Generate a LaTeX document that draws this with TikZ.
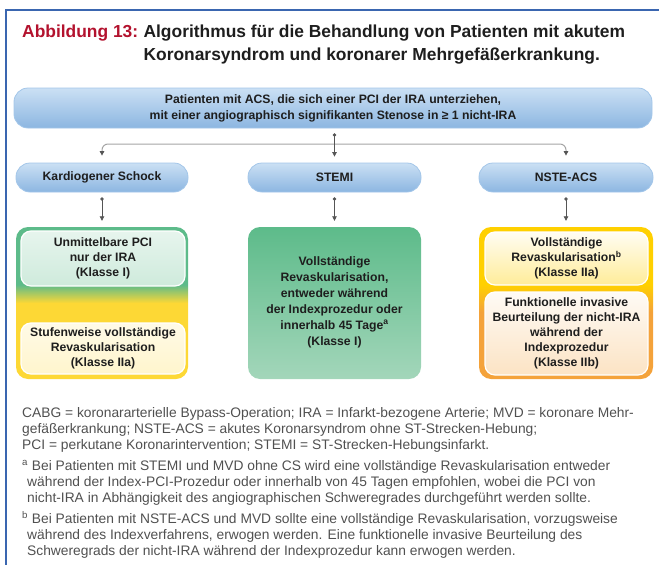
\documentclass[tikz,border=0pt]{standalone}
\usepackage{fontspec}
\setmainfont{Liberation Sans}
\usepackage{xcolor}
\usetikzlibrary{arrows.meta}
\definecolor{ink}{HTML}{1E1E1E}
\definecolor{note}{HTML}{505050}
\definecolor{figred}{HTML}{B3122E}
\definecolor{frameblue}{HTML}{3A66B0}
\definecolor{pilltop}{HTML}{CBE0F4}
\definecolor{pillbot}{HTML}{8CB6E1}
\definecolor{pillrim}{HTML}{A3C6E9}
\definecolor{dark}{HTML}{555555}
\definecolor{light}{HTML}{A5A5A5}
\definecolor{grn}{HTML}{5DBB8A}
\definecolor{grnlow}{HTML}{A3D6BA}
\definecolor{yel}{HTML}{FDD835}
\definecolor{ylw}{HTML}{FFD000}
\definecolor{org}{HTML}{F4A23A}
\pgfdeclareverticalshading{kardshade}{100bp}{color(0bp)=(yel); color(50bp)=(yel); color(56bp)=(grn); color(100bp)=(grn)}
\pgfdeclareverticalshading{nsteshade}{100bp}{color(0bp)=(org); color(47bp)=(org); color(56bp)=(ylw); color(100bp)=(ylw)}
\tikzset{
  boxfont/.style={font=\bfseries\fontsize{12.2}{15}\selectfont, text=ink, align=center},
  pill/.style={boxfont, rounded corners=14pt, draw=pillrim, line width=0.8pt,
    top color=pilltop, bottom color=pillbot, inner sep=0pt},
  outer/.style={rounded corners=12pt, minimum width=172pt, minimum height=152pt, inner sep=0pt},
  inner/.style={boxfont, rounded corners=10pt, draw=white, line width=1.2pt, inner sep=0pt},
  conn/.style={draw=dark, line width=0.8pt, {Circle[length=3.2pt]}-{Triangle[length=4.5pt,width=4.5pt]},
    shorten <=5pt, shorten >=6pt},
  branch/.style={draw=light, line width=1pt, rounded corners=6pt,
    -{Triangle[length=4.5pt,width=4.5pt,color=dark]}, shorten >=7pt},
  fn/.style={anchor=north west, align=left, text=note, inner sep=0pt,
    font=\fontsize{13.8}{16}\selectfont},
}

\begin{document}
\begin{tikzpicture}[x=1pt,y=-1pt]
  \useasboundingbox (0,0) rectangle (659,565);
  % frame
  \draw[frameblue, line width=1.2pt] (6,565) -- (6,10) -- (659,10);

  % title
  \node[anchor=base west, inner sep=0pt, text=figred, font=\bfseries\fontsize{17.4}{23}\selectfont]
    (figlabel) at (22,37) {Abbildung 13:};
  \node[anchor=north west, inner sep=0pt, align=left, text=ink, font=\bfseries\fontsize{17.4}{23}\selectfont]
    (title) at ([xshift=5pt]figlabel.north east)
    {Algorithmus für die Behandlung von Patienten mit akutem\\Koronarsyndrom und koronarer Mehrgefäßerkrankung.};

  % top box
  \node[pill, minimum width=638pt, minimum height=40pt, font=\bfseries\fontsize{12.2}{16}\selectfont] (top) at (333,108)
    {Patienten mit ACS, die sich einer PCI der IRA unterziehen,\\mit einer angiographisch signifikanten Stenose in ≥ 1 nicht-IRA};

  % categories
  \node[pill, minimum width=172pt, minimum height=29pt] (kard) at (102,177.5) {Kardiogener Schock};
  \node[pill, minimum width=173pt, minimum height=29pt] (stemi) at (334.5,177.5) {STEMI};
  \node[pill, minimum width=174pt, minimum height=29pt] (nste) at (566,177.5) {NSTE-ACS};

  \coordinate (split) at (334.5,144);
  \draw[branch] (split) -| (kard.north);
  \draw[branch] (split) -| (nste.north);
  \draw[conn] (top.south -| stemi.north) -- (stemi.north);

  % recommendation boxes
  \node[outer, shading=kardshade] (kardbox) at (102,303) {};
  \node[outer, top color=grn, bottom color=grnlow, minimum width=173pt] (stemibox) at (334.5,303) {};
  \node[outer, shading=nsteshade, minimum width=174pt] (nstebox) at (566,303) {};

  \draw[conn] (kard.south) -- (kardbox.north);
  \draw[conn] (stemi.south) -- (stemibox.north);
  \draw[conn] (nste.south) -- (nstebox.north);

  \node[inner, top color=white!85!grn, bottom color=white!70!grn, minimum width=164pt, minimum height=55pt]
    (kardfirst) at (103,258.5) {Unmittelbare PCI\\nur der IRA\\(Klasse I)};
  \node[inner, top color=white!88!yel, bottom color=white!75!yel, minimum width=164pt, minimum height=51pt]
    (kardsecond) at (103,348.5) {Stufenweise vollständige\\Revaskularisation\\(Klasse IIa)};

  \node[boxfont, inner sep=0pt, font=\bfseries\fontsize{12.2}{16}\selectfont]
    (stemitext) at (334.5,302) {Vollständige\\Revaskularisation,\\entweder während\\der Indexprozedur oder\\innerhalb 45 Tage\textsuperscript{a}\\(Klasse I)};

  \node[inner, top color=white!95!ylw, bottom color=white!60!ylw, minimum width=163pt, minimum height=53pt]
    (nstefirst) at (566.5,258.5) {Vollständige\\Revaskularisation\textsuperscript{b}\\(Klasse IIa)};
  \node[inner, top color=white!95!org, bottom color=white!70!org, minimum width=163pt, minimum height=83pt]
    (nstesecond) at (566.5,333.5) {Funktionelle invasive\\Beurteilung der nicht-IRA\\während der\\Indexprozedur\\(Klasse IIb)};

  % notes
  \node[fn] (abbrev) at (22,407)
    {CABG = koronararterielle Bypass-Operation; IRA = Infarkt-bezogene Arterie; MVD = koronare Mehr-\\
     gefäßerkrankung; NSTE-ACS = akutes Koronarsyndrom ohne ST-Strecken-Hebung;\\
     PCI = perkutane Koronarintervention; STEMI = ST-Strecken-Hebungsinfarkt.};
  \node[fn] (notea) at (22,460)
    {\textsuperscript{a} Bei Patienten mit STEMI und MVD ohne CS wird eine vollständige Revaskularisation entweder\\
     \hspace*{5pt}während der Index-PCI-Prozedur oder innerhalb von 45 Tagen empfohlen, wobei die PCI von\\
     \hspace*{5pt}nicht-IRA in Abhängigkeit des angiographischen Schweregrades durchgeführt werden sollte.};
  \node[fn] (noteb) at (22,511)
    {\textsuperscript{b} Bei Patienten mit NSTE-ACS und MVD sollte eine vollständige Revaskularisation, vorzugsweise\\
     \hspace*{5pt}während des Indexverfahrens, erwogen werden. Eine funktionelle invasive Beurteilung des\\
     \hspace*{5pt}Schweregrads der nicht-IRA während der Indexprozedur kann erwogen werden.};
\end{tikzpicture}
\end{document}
